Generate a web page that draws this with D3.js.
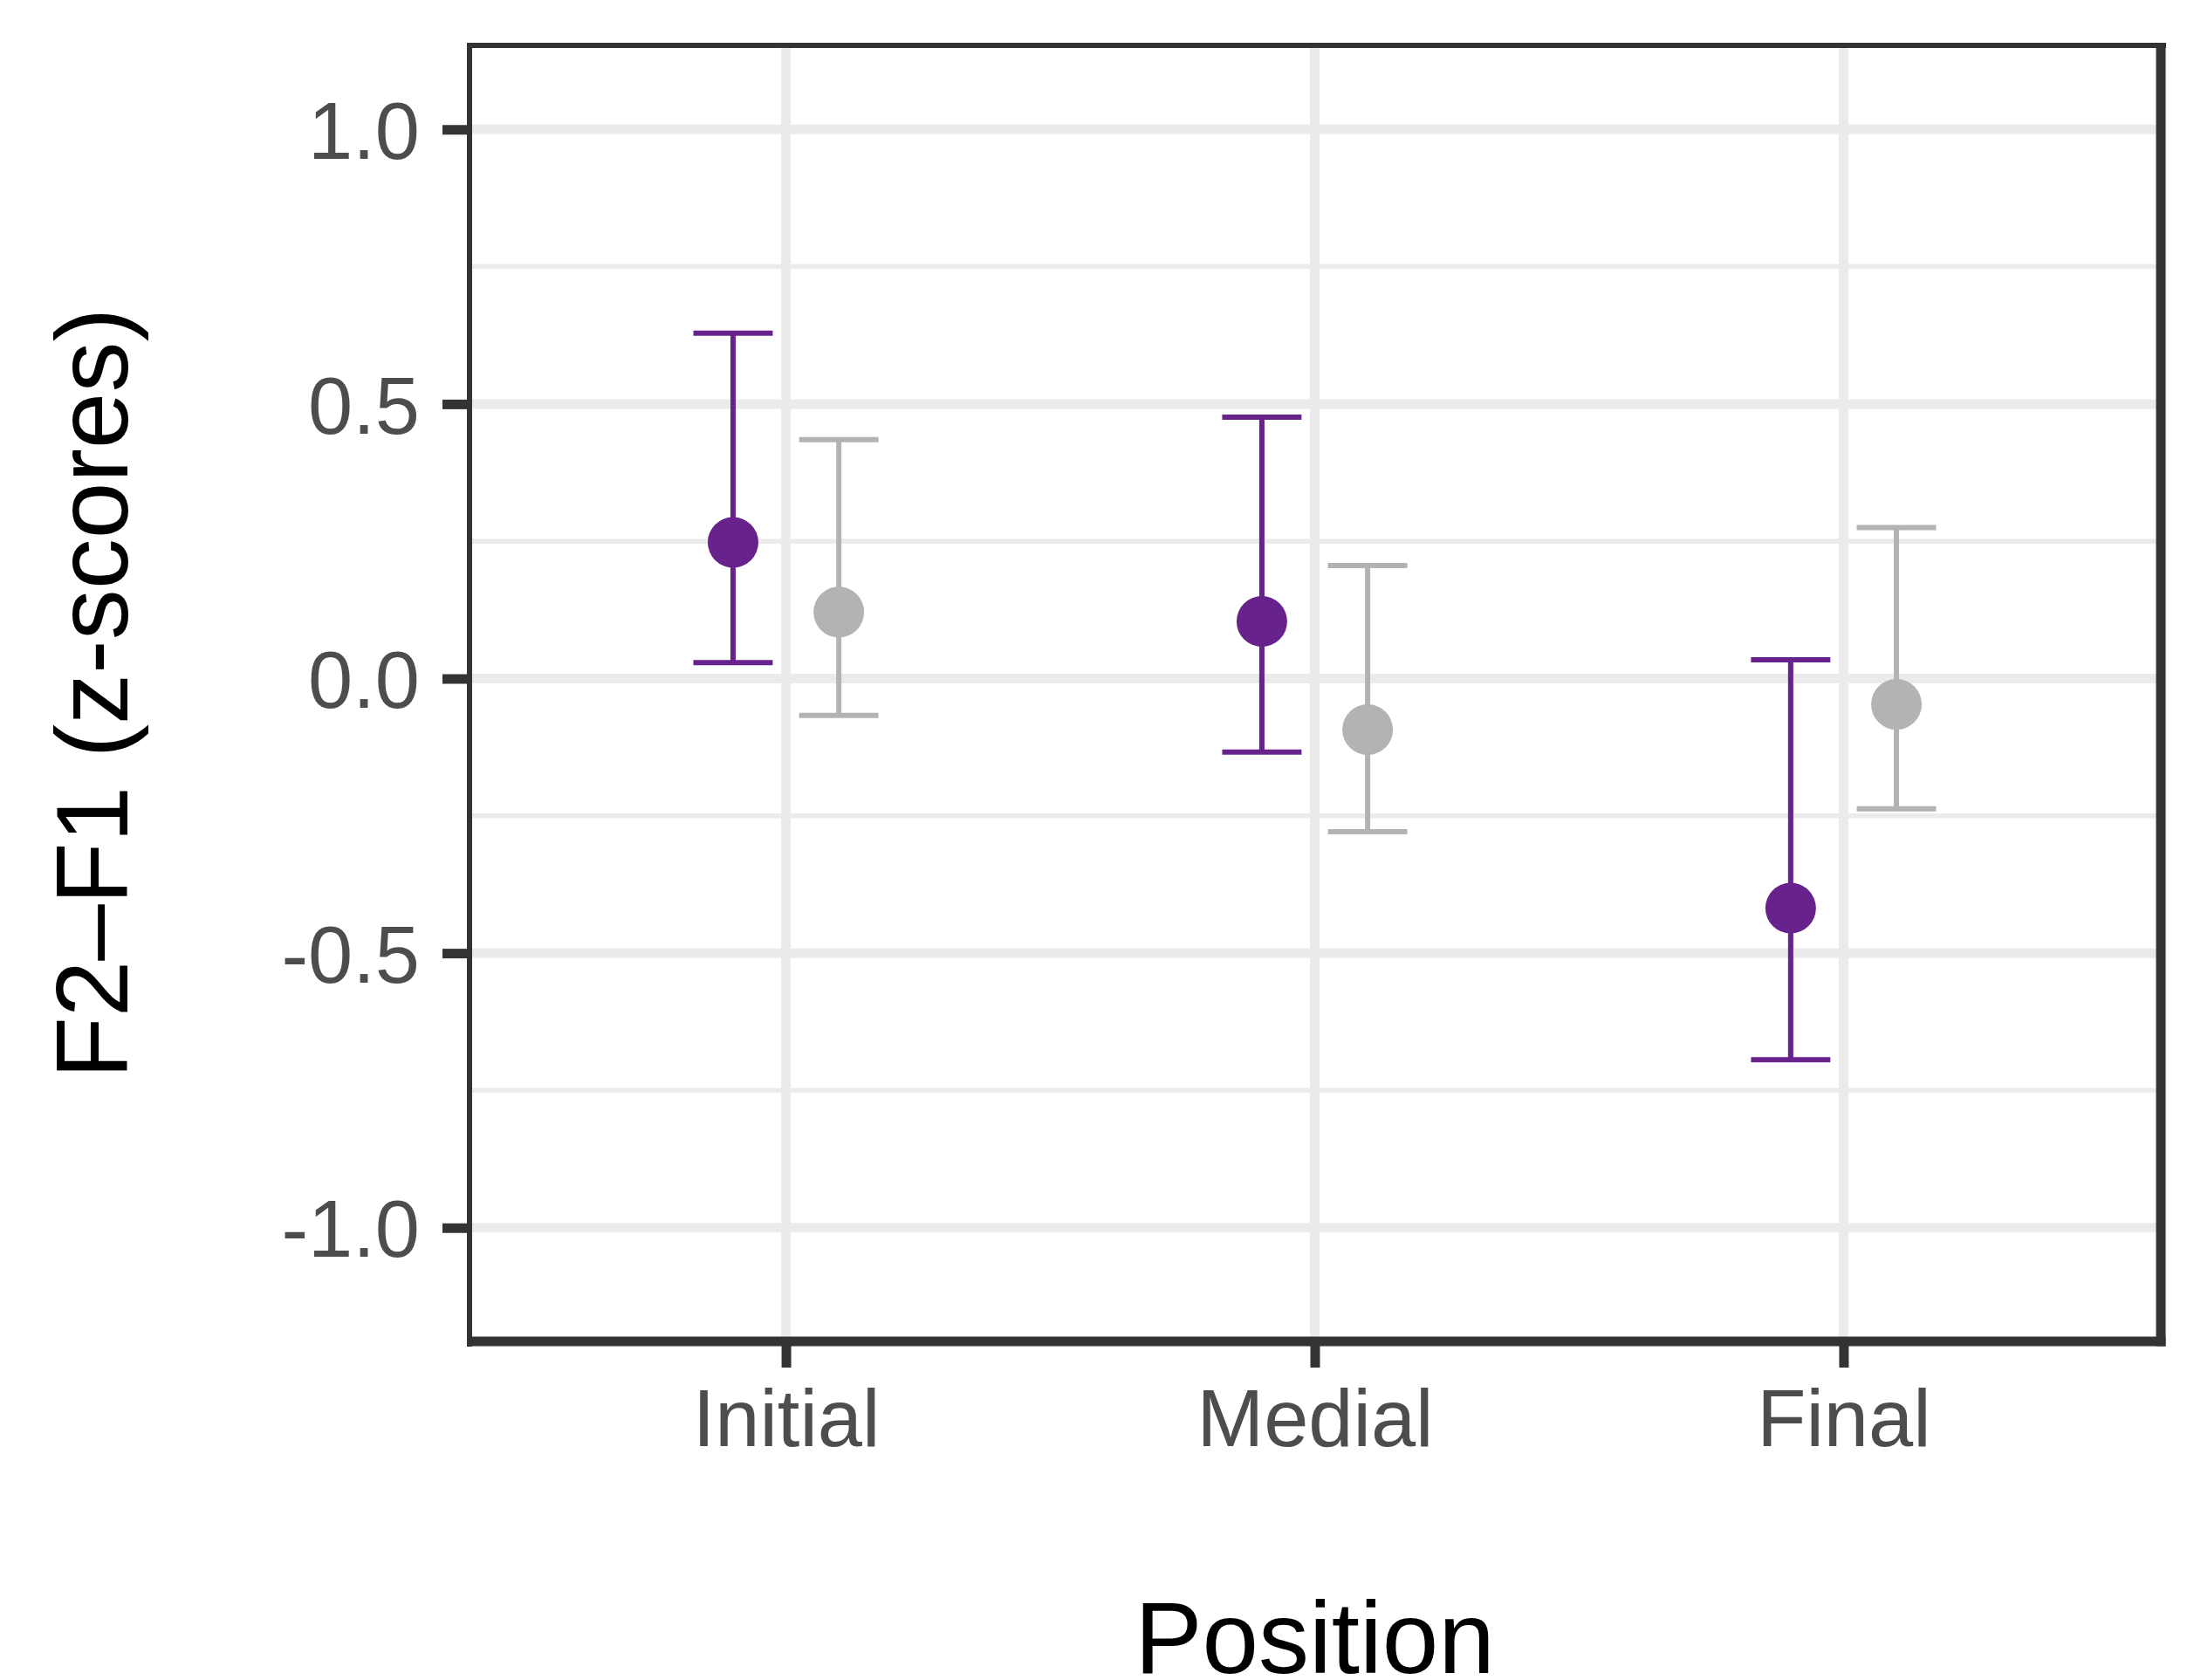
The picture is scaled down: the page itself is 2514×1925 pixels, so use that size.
<!DOCTYPE html>
<html>
<head>
<meta charset="utf-8">
<script src="https://cdn.jsdelivr.net/npm/d3@7"></script>
<style>
  body { margin: 0; background: #ffffff; }
  text { font-family: "Liberation Sans", Arial, Helvetica, sans-serif; }
</style>
</head>
<body>
<svg id="chart"></svg>
<script>
// categories on the x axis and the two dodged groups
const positions = ["Initial", "Medial", "Final"];
const groups = ["group1", "group2"];

// purple group (mean with lower / upper error bar ends)
const means1 = [0.248, 0.104, -0.418];
const lower1 = [0.029, -0.134, -0.694];
const upper1 = [0.629, 0.476, 0.034];

// grey group
const means2 = [0.121, -0.093, -0.047];
const lower2 = [-0.067, -0.279, -0.237];
const upper2 = [0.435, 0.206, 0.275];

// y axis ticks
const yMajorTicks = [-1, -0.5, 0, 0.5, 1];
const yMinorTicks = [-0.75, -0.25, 0.25, 0.75];
const yLimits = [-1.207, 1.153];

const xTitle = "Position";
const yTitle = "F2\u2013F1 (z-scores)";

class ErrorPlot {
    constructor(_config) {
        this.config = {
            parentElement: _config.parentElement,
            containerWidth: _config.containerWidth || 2514,
            containerHeight: _config.containerHeight || 1925,
            margin: _config.margin || {top: 52, right: 38, bottom: 388, left: 537}
        };
        this.initVis();
    }

    initVis() {
        let vis = this;
        const m = vis.config.margin;
        vis.width = vis.config.containerWidth - m.left - m.right;
        vis.height = vis.config.containerHeight - m.top - m.bottom;

        vis.svg = d3.select(vis.config.parentElement)
            .attr("width", vis.config.containerWidth)
            .attr("height", vis.config.containerHeight);

        vis.svg.append("rect")
            .attr("width", vis.config.containerWidth)
            .attr("height", vis.config.containerHeight)
            .attr("fill", "#ffffff");

        vis.chart = vis.svg.append("g")
            .attr("transform", `translate(${m.left},${m.top})`);

        // discrete x scale, ggplot style expansion of 0.6 on each side
        vis.xScale = d3.scalePoint().domain(positions).range([0, vis.width]).padding(0.6);
        vis.step = vis.xScale.step();
        // dodge the two groups by +-0.1 of a category
        vis.dodge = d3.scaleBand().domain(groups).range([-0.2 * vis.step, 0.2 * vis.step]);
        vis.capWidth = 0.15 * vis.step;

        vis.yScale = d3.scaleLinear().domain(yLimits).range([vis.height, 0]);

        vis.colors = d3.scaleOrdinal().domain(groups).range(["#68228B", "#B3B3B3"]);
    }

    updateVis() {
        let vis = this;
        const series = [
            {group: groups[0], mean: means1, lower: lower1, upper: upper1},
            {group: groups[1], mean: means2, lower: lower2, upper: upper2}
        ];
        vis.data = [];
        series.forEach(s => {
            positions.forEach((p, i) => {
                vis.data.push({position: p, group: s.group, mean: s.mean[i], lower: s.lower[i], upper: s.upper[i]});
            });
        });
        vis.renderVis();
    }

    renderVis() {
        let vis = this;
        const grid = vis.chart.append("g").attr("class", "grid");

        // minor horizontal grid
        grid.selectAll(".minor")
            .data(yMinorTicks)
            .join("line")
            .attr("x1", 0).attr("x2", vis.width)
            .attr("y1", d => vis.yScale(d)).attr("y2", d => vis.yScale(d))
            .attr("stroke", "#EBEBEB").attr("stroke-width", 5.5);

        // major horizontal grid
        grid.selectAll(".major")
            .data(yMajorTicks)
            .join("line")
            .attr("x1", 0).attr("x2", vis.width)
            .attr("y1", d => vis.yScale(d)).attr("y2", d => vis.yScale(d))
            .attr("stroke", "#EBEBEB").attr("stroke-width", 11);

        // vertical grid at categories
        grid.selectAll(".vmajor")
            .data(positions)
            .join("line")
            .attr("y1", 0).attr("y2", vis.height)
            .attr("x1", d => vis.xScale(d)).attr("x2", d => vis.xScale(d))
            .attr("stroke", "#EBEBEB").attr("stroke-width", 11);

        const xOf = d => vis.xScale(d.position) + vis.dodge(d.group) + vis.dodge.bandwidth() / 2;

        const bars = vis.chart.selectAll(".errbar")
            .data(vis.data)
            .join("g")
            .attr("class", "errbar")
            .attr("stroke", d => vis.colors(d.group))
            .attr("stroke-width", 6);

        bars.append("line")
            .attr("x1", xOf).attr("x2", xOf)
            .attr("y1", d => vis.yScale(d.lower)).attr("y2", d => vis.yScale(d.upper));
        bars.append("line")
            .attr("x1", d => xOf(d) - vis.capWidth / 2).attr("x2", d => xOf(d) + vis.capWidth / 2)
            .attr("y1", d => vis.yScale(d.upper)).attr("y2", d => vis.yScale(d.upper));
        bars.append("line")
            .attr("x1", d => xOf(d) - vis.capWidth / 2).attr("x2", d => xOf(d) + vis.capWidth / 2)
            .attr("y1", d => vis.yScale(d.lower)).attr("y2", d => vis.yScale(d.lower));

        vis.chart.selectAll(".point")
            .data(vis.data)
            .join("circle")
            .attr("class", "point")
            .attr("cx", xOf)
            .attr("cy", d => vis.yScale(d.mean))
            .attr("r", 29)
            .attr("fill", d => vis.colors(d.group));

        // axes
        const yAxis = d3.axisLeft(vis.yScale).tickValues(yMajorTicks)
            .tickSize(30).tickPadding(26).tickFormat(d => d.toFixed(1));
        const yAxisG = vis.chart.append("g").call(yAxis);
        yAxisG.select(".domain").remove();
        yAxisG.selectAll("line").attr("stroke", "#333333").attr("stroke-width", 11);
        yAxisG.selectAll("text")
            .attr("dy", "0.36em")
            .attr("fill", "#4D4D4D")
            .style("font-size", "92px")
            .style("font-family", "'Liberation Sans', Arial, sans-serif");

        const xAxis = d3.axisBottom(vis.xScale).tickSize(30).tickPadding(25);
        const xAxisG = vis.chart.append("g")
            .attr("transform", `translate(0,${vis.height})`)
            .call(xAxis);
        xAxisG.select(".domain").remove();
        xAxisG.selectAll("line").attr("stroke", "#333333").attr("stroke-width", 11);
        xAxisG.selectAll("text")
            .attr("fill", "#4D4D4D")
            .style("font-size", "92px")
            .style("font-family", "'Liberation Sans', Arial, sans-serif");

        // panel border, bottom and right drawn heavier like the reference
        const border = vis.chart.append("g").attr("stroke", "#333333").attr("fill", "none");
        border.append("line").attr("x1", -2).attr("x2", vis.width + 6)
            .attr("y1", 0).attr("y2", 0).attr("stroke-width", 6);
        border.append("line").attr("x1", 1).attr("x2", 1)
            .attr("y1", -3).attr("y2", vis.height + 6).attr("stroke-width", 6);
        border.append("line").attr("x1", vis.width).attr("x2", vis.width)
            .attr("y1", -3).attr("y2", vis.height + 5.5).attr("stroke-width", 11);
        border.append("line").attr("x1", -2).attr("x2", vis.width + 5.5)
            .attr("y1", vis.height).attr("y2", vis.height).attr("stroke-width", 11);

        // axis titles
        vis.svg.append("text")
            .attr("x", vis.config.margin.left + vis.width / 2)
            .attr("y", 1917)
            .attr("text-anchor", "middle")
            .attr("fill", "#000000")
            .style("font-size", "116px")
            .text(xTitle);

        vis.svg.append("text")
            .attr("transform", `translate(146,${vis.config.margin.top + vis.height / 2}) rotate(-90)`)
            .attr("text-anchor", "middle")
            .attr("fill", "#000000")
            .style("font-size", "116px")
            .style("white-space", "pre")
            .text(yTitle);
    }
}

const plot = new ErrorPlot({parentElement: "#chart"});
plot.updateVis();
</script>
</body>
</html>
